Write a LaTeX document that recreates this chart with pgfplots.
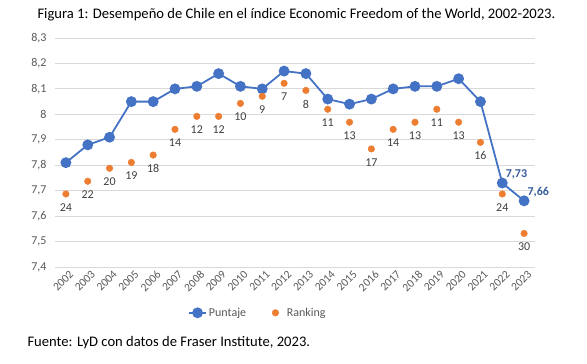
\documentclass[border=0pt]{standalone}
\usepackage{pgfplots}
\pgfplotsset{compat=1.18}
\usepackage{fontspec}
\setmainfont{Carlito}
\definecolor{cblue}{HTML}{4472C4}
\definecolor{corange}{HTML}{ED7D31}
\definecolor{cgrid}{HTML}{D9D9D9}
\definecolor{ctext}{HTML}{595959}
\definecolor{clab}{HTML}{404040}
\begin{document}
\begin{tikzpicture}
\path[use as bounding box] (0pt,0pt) rectangle (587pt,364pt);
\node[anchor=west,font=\fontsize{14.6}{16}\selectfont] at (34pt,349pt) {Figura 1: Desempeño de Chile en el índice Economic Freedom of the World, 2002-2023.};
\begin{axis}[
  at={(55pt,97pt)}, anchor=south west,
  scale only axis, width=480pt, height=229pt,
  xmin=-0.5, xmax=21.5, ymin=7.4, ymax=8.3,
  ytick={7.4,7.5,...,8.31},
  xtick={0,...,21},
  xticklabels={2002,2003,2004,2005,2006,2007,2008,2009,2010,2011,2012,2013,2014,2015,2016,2017,2018,2019,2020,2021,2022,2023},
  x tick label style={rotate=45, anchor=north east, font=\fontsize{11.5}{13}\selectfont, text=ctext, inner sep=1pt, yshift=-3pt, xshift=1pt},
  y tick label style={font=\fontsize{12}{13}\selectfont, text=ctext, xshift=-5pt},
  /pgf/number format/assume math mode=true,
  /pgf/number format/use comma,
  /pgf/number format/fixed,
  /pgf/number format/precision=1,
  major tick length=0pt,
  axis line style={draw=none},
  ymajorgrids, major grid style={cgrid, line width=0.8pt},
  legend columns=2,
  legend style={at={(0.4225,-0.2)}, anchor=center, draw=none, font=\fontsize{12}{13}\selectfont, text=ctext,
    /tikz/column 2/.style={column sep=24pt}, /tikz/column 3/.style={column sep=6pt}},
  clip=false,
]
\addplot[cblue, line width=1.8pt, mark=*, mark size=4.5pt, mark options={fill=cblue, draw=cblue}] coordinates {
(0,7.81) (1,7.88) (2,7.91) (3,8.05) (4,8.05) (5,8.10) (6,8.11) (7,8.16) (8,8.11) (9,8.10) (10,8.17) (11,8.16) (12,8.06) (13,8.04) (14,8.06) (15,8.10) (16,8.11) (17,8.11) (18,8.14) (19,8.05) (20,7.73) (21,7.66)};
\addlegendentry{Puntaje}
\addplot[only marks, mark=*, mark size=3.3pt, mark options={fill=corange, draw=corange},
  point meta=explicit symbolic, nodes near coords,
  every node near coord/.append style={anchor=north, yshift=-6pt, font=\fontsize{12}{13}\selectfont, text=clab}] table[meta=r] {
x y r
0 7.687 24
1 7.737 22
2 7.788 20
3 7.811 19
4 7.840 18
5 7.941 14
6 7.992 12
7 7.992 12
8 8.043 10
9 8.071 9
10 8.122 7
11 8.094 8
12 8.020 11
13 7.969 13
14 7.864 17
15 7.941 14
16 7.969 13
17 8.020 11
18 7.969 13
19 7.890 16
20 7.687 24
21 7.532 30
};
\addlegendentry{Ranking}
\addplot[draw=none, mark=none, forget plot, point meta=explicit symbolic, nodes near coords,
  every node near coord/.append style={anchor=south west, xshift=0pt, yshift=0pt, font=\bfseries\fontsize{12}{13}\selectfont, text=cblue!80!black}] table[meta=l] {
x y l
20 7.73 {7,73}
21 7.66 {7,66}
};
\end{axis}
\node[anchor=west,font=\fontsize{14.6}{16}\selectfont] at (24pt,21pt) {Fuente: LyD con datos de Fraser Institute, 2023.};
\end{tikzpicture}
\end{document}
